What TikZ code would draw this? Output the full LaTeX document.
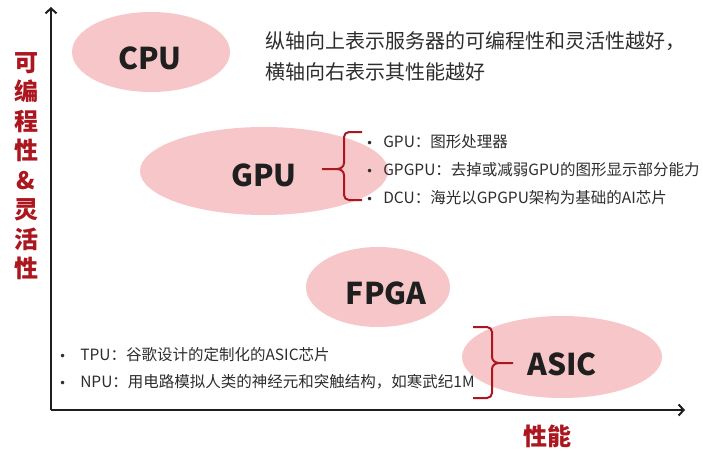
\documentclass[tikz,border=0pt]{standalone}
\usepackage{fontspec}
\setmainfont{Noto Sans CJK SC}
\newfontfamily\bulfont{DejaVu Sans}
\usetikzlibrary{shapes.geometric,arrows.meta}
\definecolor{pinkfill}{RGB}{247,198,200}
\definecolor{darkred}{RGB}{172,22,30}
\definecolor{txtgray}{RGB}{45,45,45}
\definecolor{axisblack}{RGB}{30,30,30}
\newcommand{\bul}[1]{{\bulfont\fontsize{12}{12}\selectfont •}\hspace{#1}}
\tikzset{
  blob/.style={ellipse, fill=pinkfill, draw=none, inner sep=0pt},
  chip/.style={font=\fontsize{30}{32}\selectfont\bfseries, text=black!88},
  axisline/.style={draw=axisblack, line width=2pt, -{Straight Barb[length=5pt,width=11pt,line width=2pt]}},
  bracepath/.style={draw=darkred, line width=2pt, line cap=butt, line join=round},
  bullettxt/.style={anchor=west, inner sep=0pt, font=\fontsize{15.5}{17}\selectfont, text=txtgray},
  axislabel/.style={font=\fontsize{24}{29.5}\selectfont\bfseries, text=darkred, inner sep=0pt},
}
\begin{document}
\begin{tikzpicture}[x=1pt,y=-1pt]
\useasboundingbox (0,0) rectangle (703,450);
\fill[white] (0,0) rectangle (703,450);
% ellipses
\node[blob, minimum width=158pt, minimum height=80pt] (cpu) at (151,52) {};
\node[blob, minimum width=248pt, minimum height=88pt] (gpu) at (264,171) {};
\node[blob, minimum width=144pt, minimum height=80pt] (fpga) at (378,287) {};
\node[blob, minimum width=200pt, minimum height=82pt] (asic) at (562,357) {};
\node[chip] (cputxt) at (150,58) {CPU};
\node[chip] (gputxt) at (264,175) {GPU};
\node[chip] (fpgatxt) at (386,293) {FPGA};
\node[chip] (asictxt) at (562,364) {ASIC};
% axes
\coordinate (origin) at (51,410);
\coordinate (ytip) at (51,7);
\coordinate (xtip) at (685,410);
\draw[axisline] (origin) -- (ytip);
\draw[axisline] (origin) -- (xtip);
% axis labels
\node[axislabel, align=center] (ylab) at (26,166) {可\\编\\程\\性\\\&\\灵\\活\\性};
\node[axislabel] (xlab) at (547,436) {性能};
% description
\node[anchor=north west, inner sep=0pt, align=left, text=txtgray,
      font=\fontsize{20}{31}\selectfont] (desc) at (265,31)
  {纵轴向上表示服务器的可编程性和灵活性越好，\\横轴向右表示其性能越好};
% GPU brace
\coordinate (gtip) at (322,169);
\draw[bracepath] (362,132) -- (349,132) to[out=180,in=90] (344,137) -- (344,163)
   to[out=-90,in=0] (337,169) -- (gtip);
\draw[bracepath] (337,169) to[out=0,in=90] (344,175) -- (344,195)
   to[out=-90,in=180] (349,200) -- (362,200);
% GPU bullets
\node[bullettxt] (b1) at (366,142) {\bul{10pt}GPU：图形处理器};
\node[bullettxt] (b2) at (366,170) {\bul{10pt}GPGPU：去掉或减弱GPU的图形显示部分能力};
\node[bullettxt] (b3) at (366,198) {\bul{10pt}DCU：海光以GPGPU架构为基础的AI芯片};
% ASIC brace
\coordinate (atip) at (513,363);
\draw[bracepath] (473,327) -- (487,327) to[out=0,in=90] (492,332) -- (492,357)
   to[out=-90,in=180] (499,363) -- (atip);
\draw[bracepath] (499,363) to[out=180,in=90] (492,369) -- (492,393)
   to[out=-90,in=0] (487,398) -- (473,398);
% ASIC bullets
\node[bullettxt] (b4) at (59,355) {\bul{14pt}TPU：谷歌设计的定制化的ASIC芯片};
\node[bullettxt] (b5) at (59,382) {\bul{14pt}NPU：用电路模拟人类的神经元和突触结构，如寒武纪1M};
\end{tikzpicture}
\end{document}
